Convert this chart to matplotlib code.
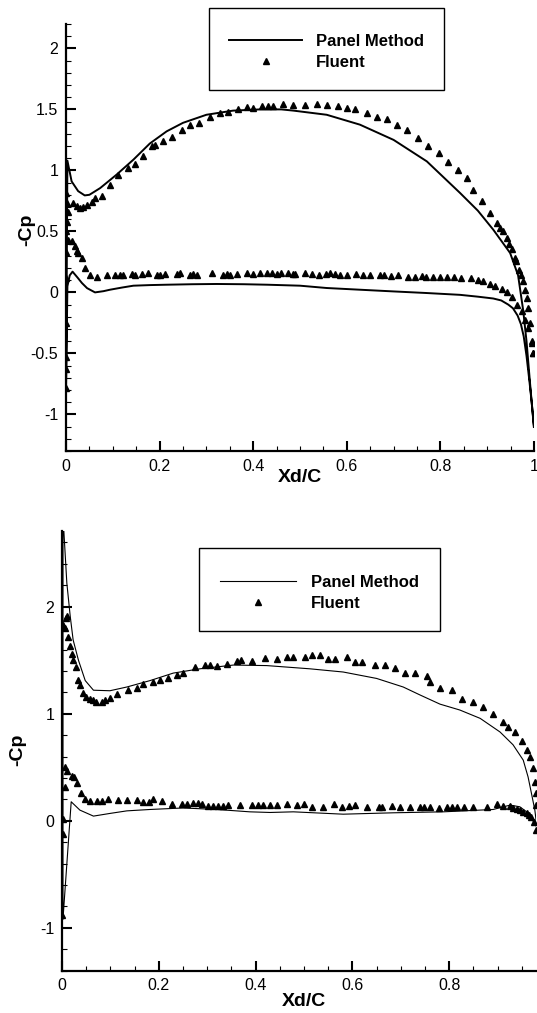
#!/usr/bin/env python3
"""
Pressure distribution: Panel Method vs Fluent (two cases)
"""
import numpy as np
import matplotlib
matplotlib.use('Agg')
import matplotlib.pyplot as plt
from matplotlib.ticker import MultipleLocator, FuncFormatter

plt.rcParams['font.family'] = ['Liberation Sans', 'DejaVu Sans']
plt.rcParams['axes.unicode_minus'] = False

# ---- case 1 (top) ----
pm1_up_x = [0.003, 0.012, 0.026, 0.04, 0.05, 0.073, 0.108, 0.144, 0.179, 0.215, 0.25,
            0.30, 0.357, 0.415, 0.46, 0.486, 0.557, 0.628, 0.70, 0.771, 0.842, 0.88,
            0.913, 0.949, 0.966, 0.977, 0.984, 0.991, 0.9996]
pm1_up_y = [1.08, 0.91, 0.83, 0.795, 0.80, 0.855, 0.965, 1.088, 1.22, 1.32, 1.39,
            1.456, 1.49, 1.50, 1.50, 1.49, 1.456, 1.375, 1.25, 1.074, 0.815, 0.67,
            0.514, 0.323, 0.14, -0.15, -0.4, -0.72, -1.1]
pm1_lo_x = [0.0, 0.003, 0.008, 0.014, 0.025, 0.034, 0.045, 0.062, 0.08, 0.094, 0.12,
            0.144, 0.18, 0.215, 0.27, 0.322, 0.38, 0.43, 0.5, 0.557, 0.628, 0.70,
            0.77, 0.842, 0.88, 0.913, 0.93, 0.945, 0.955, 0.965, 0.972, 0.978, 0.984,
            0.99, 0.995, 1.0]
pm1_lo_y = [-0.8, 0.05, 0.14, 0.17, 0.12, 0.077, 0.035, 0.0, 0.01, 0.022, 0.04,
            0.055, 0.06, 0.063, 0.067, 0.069, 0.067, 0.063, 0.055, 0.036, 0.022, 0.008,
            -0.005, -0.02, -0.035, -0.05, -0.066, -0.1, -0.13, -0.19, -0.26, -0.36, -0.52,
            -0.72, -0.9, -1.1]

fl1_up_x = [0.001, 0.003, 0.005, 0.003, 0.001, 0.016, 0.023, 0.03, 0.037, 0.044, 0.055,
            0.062, 0.076, 0.094, 0.112, 0.133, 0.147, 0.165, 0.183, 0.19, 0.208, 0.226,
            0.247, 0.265, 0.285, 0.308, 0.329, 0.347, 0.368, 0.386, 0.40, 0.418, 0.432,
            0.443, 0.464, 0.486, 0.511, 0.536, 0.557, 0.582, 0.60, 0.618, 0.643, 0.664,
            0.685, 0.707, 0.728, 0.753, 0.774, 0.796, 0.817, 0.838, 0.856, 0.87, 0.888,
            0.906, 0.92, 0.928, 0.934, 0.942, 0.947, 0.954, 0.959, 0.962, 0.969, 0.973,
            0.977, 0.98, 0.984, 0.988, 0.991, 0.995, 0.998]
fl1_up_y = [0.815, 0.73, 0.66, 0.58, 0.50, 0.73, 0.705, 0.69, 0.70, 0.72, 0.74,
            0.77, 0.79, 0.88, 0.96, 1.02, 1.05, 1.115, 1.20, 1.21, 1.24, 1.27,
            1.33, 1.37, 1.39, 1.44, 1.47, 1.475, 1.50, 1.52, 1.51, 1.525, 1.53,
            1.53, 1.545, 1.536, 1.536, 1.545, 1.536, 1.525, 1.51, 1.50, 1.47, 1.44,
            1.42, 1.375, 1.33, 1.265, 1.20, 1.14, 1.07, 1.005, 0.94, 0.84, 0.746,
            0.65, 0.57, 0.53, 0.50, 0.446, 0.40, 0.355, 0.28, 0.26, 0.186, 0.146,
            0.09, 0.02, -0.046, -0.128, -0.25, -0.40, -0.50]
fl1_lo_x = [0.0, 0.0, 0.0, 0.0, 0.001, 0.001, 0.005, 0.012, 0.019, 0.023, 0.026, 0.034,
            0.04, 0.051, 0.066, 0.087, 0.105, 0.115, 0.122, 0.14, 0.147, 0.162, 0.176,
            0.194, 0.201, 0.212, 0.237, 0.244, 0.265, 0.272, 0.279, 0.311, 0.336, 0.343,
            0.35, 0.365, 0.386, 0.40, 0.415, 0.43, 0.44, 0.45, 0.46, 0.475, 0.485, 0.49,
            0.51, 0.525, 0.54, 0.555, 0.565, 0.575, 0.585, 0.60, 0.62, 0.635, 0.65,
            0.67, 0.68, 0.695, 0.71, 0.73, 0.745, 0.76, 0.77, 0.785, 0.80, 0.815, 0.83,
            0.845, 0.865, 0.88, 0.892, 0.905, 0.917, 0.931, 0.942, 0.952, 0.963, 0.974,
            0.981, 0.988, 0.995, 0.998]
fl1_lo_y = [-0.78, -0.63, -0.53, -0.25, 0.12, 0.33, 0.43, 0.42, 0.38, 0.34, 0.32, 0.28,
            0.20, 0.145, 0.13, 0.145, 0.145, 0.14, 0.145, 0.15, 0.145, 0.15, 0.155,
            0.14, 0.145, 0.15, 0.15, 0.155, 0.145, 0.15, 0.14, 0.155, 0.145, 0.15,
            0.14, 0.15, 0.155, 0.15, 0.155, 0.16, 0.155, 0.15, 0.155, 0.16, 0.15, 0.15,
            0.155, 0.15, 0.145, 0.15, 0.155, 0.15, 0.14, 0.145, 0.15, 0.14, 0.145,
            0.145, 0.14, 0.135, 0.14, 0.13, 0.13, 0.135, 0.13, 0.13, 0.125, 0.13, 0.125,
            0.12, 0.115, 0.105, 0.09, 0.07, 0.05, 0.025, 0.0, -0.04, -0.1, -0.155,
            -0.224, -0.29, -0.415, -0.50]

# ---- case 2 (bottom) ----
pm2_up_x = [0.002, 0.01, 0.017, 0.023, 0.034, 0.048, 0.065, 0.099, 0.134, 0.182, 0.23,
            0.285, 0.354, 0.423, 0.512, 0.581, 0.65, 0.705, 0.74, 0.781, 0.822, 0.864,
            0.905, 0.932, 0.953, 0.963, 0.97, 0.977, 0.981]
pm2_up_y = [2.85, 2.22, 1.91, 1.69, 1.50, 1.31, 1.22, 1.215, 1.25, 1.31, 1.38,
            1.42, 1.455, 1.45, 1.42, 1.39, 1.33, 1.25, 1.175, 1.09, 1.035, 0.957,
            0.83, 0.71, 0.567, 0.41, 0.256, 0.1, -0.05]
pm2_lo_x = [0.002, 0.019, 0.037, 0.065, 0.099, 0.134, 0.182, 0.25, 0.32, 0.388, 0.43,
            0.478, 0.581, 0.685, 0.788, 0.891, 0.926, 0.946, 0.96, 0.97, 0.981]
pm2_lo_y = [-0.92, 0.178, 0.10, 0.044, 0.069, 0.093, 0.106, 0.12, 0.106, 0.084, 0.078,
            0.084, 0.062, 0.075, 0.084, 0.106, 0.147, 0.131, 0.084, 0.022, -0.06]

fl2_up_x = [0.003, 0.006, 0.008, 0.01, 0.013, 0.017, 0.02, 0.023, 0.028, 0.034, 0.037,
            0.044, 0.049, 0.058, 0.065, 0.071, 0.082, 0.088, 0.099, 0.113, 0.137, 0.154,
            0.168, 0.189, 0.202, 0.22, 0.237, 0.25, 0.275, 0.295, 0.306, 0.32, 0.34,
            0.361, 0.37, 0.392, 0.419, 0.444, 0.464, 0.478, 0.502, 0.516, 0.533, 0.55,
            0.564, 0.588, 0.605, 0.62, 0.647, 0.667, 0.688, 0.709, 0.729, 0.754, 0.76,
            0.781, 0.805, 0.826, 0.85, 0.87, 0.891, 0.912, 0.922, 0.936, 0.95, 0.96,
            0.966, 0.974, 0.978, 0.979, 0.98]
fl2_up_y = [1.83, 1.80, 1.89, 1.91, 1.72, 1.63, 1.56, 1.50, 1.44, 1.32, 1.27,
            1.19, 1.16, 1.14, 1.13, 1.11, 1.11, 1.13, 1.15, 1.18, 1.22, 1.24,
            1.28, 1.30, 1.32, 1.33, 1.36, 1.38, 1.44, 1.455, 1.455, 1.45, 1.465,
            1.49, 1.50, 1.49, 1.52, 1.515, 1.53, 1.53, 1.53, 1.545, 1.545, 1.51,
            1.51, 1.53, 1.48, 1.48, 1.455, 1.455, 1.43, 1.38, 1.38, 1.35, 1.30,
            1.24, 1.22, 1.14, 1.11, 1.065, 1.00, 0.925, 0.88, 0.83, 0.75, 0.66,
            0.60, 0.49, 0.36, 0.26, 0.15]
fl2_lo_x = [0.001, 0.002, 0.002, 0.006, 0.006, 0.01, 0.02, 0.025, 0.032, 0.04, 0.048,
            0.058, 0.072, 0.082, 0.096, 0.116, 0.134, 0.154, 0.168, 0.179, 0.189, 0.206,
            0.227, 0.248, 0.258, 0.271, 0.282, 0.289, 0.302, 0.313, 0.323, 0.333, 0.344,
            0.368, 0.392, 0.406, 0.416, 0.43, 0.444, 0.464, 0.485, 0.499, 0.516, 0.54,
            0.561, 0.578, 0.592, 0.606, 0.63, 0.654, 0.661, 0.681, 0.698, 0.719, 0.74,
            0.747, 0.761, 0.778, 0.795, 0.805, 0.816, 0.83, 0.85, 0.878, 0.898, 0.912,
            0.925, 0.932, 0.94, 0.946, 0.953, 0.96, 0.965, 0.97, 0.975, 0.979]
fl2_lo_y = [-0.88, -0.12, 0.02, 0.32, 0.505, 0.47, 0.42, 0.41, 0.355, 0.256, 0.20,
            0.187, 0.187, 0.187, 0.203, 0.196, 0.19, 0.19, 0.18, 0.18, 0.20, 0.187,
            0.16, 0.16, 0.16, 0.17, 0.17, 0.16, 0.14, 0.14, 0.14, 0.14, 0.145,
            0.147, 0.147, 0.147, 0.147, 0.147, 0.147, 0.153, 0.147, 0.153, 0.125, 0.131,
            0.153, 0.131, 0.136, 0.147, 0.131, 0.125, 0.125, 0.142, 0.131, 0.131, 0.131,
            0.131, 0.125, 0.122, 0.125, 0.125, 0.125, 0.125, 0.131, 0.131, 0.153, 0.136,
            0.135, 0.12, 0.11, 0.10, 0.085, 0.069, 0.05, 0.037, -0.01, -0.09]


def fmt(v, pos):
    return '%g' % (round(v, 6) + 0.0)


def style_axes(ax, xmaj, xmin, ymaj, ymin):
    for s in ('top', 'right'):
        ax.spines[s].set_visible(False)
    for s in ('left', 'bottom'):
        ax.spines[s].set_linewidth(1.6)
    ax.xaxis.set_major_locator(MultipleLocator(xmaj))
    ax.xaxis.set_minor_locator(MultipleLocator(xmin))
    ax.yaxis.set_major_locator(MultipleLocator(ymaj))
    ax.yaxis.set_minor_locator(MultipleLocator(ymin))
    ax.xaxis.set_major_formatter(FuncFormatter(fmt))
    ax.yaxis.set_major_formatter(FuncFormatter(fmt))
    ax.tick_params(which='both', direction='in', top=False, right=False,
                   labelsize=11.5, pad=5.5)
    ax.tick_params(which='major', length=7, width=1.5)
    ax.tick_params(which='minor', length=3.8, width=0.8)


fig = plt.figure(figsize=(5.37, 10.13), dpi=100)
W, H = 537.0, 1013.0

ax1 = fig.add_axes([66 / W, 1 - 451 / H, 468 / W, 427 / H])
ax2 = fig.add_axes([62 / W, 1 - 970.7 / H, 474.3 / W, 440 / H])

cases = [
    (ax1, pm1_up_x, pm1_up_y, pm1_lo_x, pm1_lo_y, fl1_up_x, fl1_up_y, fl1_lo_x, fl1_lo_y, 1.4),
    (ax2, pm2_up_x, pm2_up_y, pm2_lo_x, pm2_lo_y, fl2_up_x, fl2_up_y, fl2_lo_x, fl2_lo_y, 0.8),
]
for ax, pux, puy, plx, ply, fux, fuy, flx, fly, lw in cases:
    px = np.concatenate([plx[::-1], pux])
    py = np.concatenate([ply[::-1], puy])
    ax.plot(px, py, color='black', lw=lw, label='Panel Method', zorder=2)
    fx = np.concatenate([fux, flx])
    fy = np.concatenate([fuy, fly])
    ax.plot(fx, fy, ls='none', marker='^', ms=4, color='black', mec='black',
            label='Fluent', zorder=3, clip_on=True)

ax1.set_xlim(0, 1)
ax1.set_ylim(-1.3, 2.2)
style_axes(ax1, 0.2, 0.05, 0.5, 0.1)

ax2.set_xlim(0, 0.98)
ax2.set_ylim(-1.4, 2.71)
style_axes(ax2, 0.2, 0.05, 1.0, 0.2)

# (axes, left px, top px, handlelength, handletextpad, borderpad)
legend_pos = [(ax1, 209, 8, 4.4, 0.8, 1.2), (ax2, 199, 548, 4.55, 0.9, 1.25)]
for ax, lx, ly, hl, htp, bp in legend_pos:
    leg = ax.legend(loc='upper left', bbox_to_anchor=(lx / W, 1 - ly / H),
                    bbox_transform=fig.transFigure, frameon=True, fancybox=False,
                    edgecolor='black', framealpha=1, numpoints=1,
                    prop=dict(weight='bold', size=12), handlelength=hl,
                    handletextpad=htp, borderpad=bp, labelspacing=0.32,
                    borderaxespad=0, title=' ', title_fontsize=1)
    leg.get_frame().set_linewidth(1.0)

lab = dict(fontsize=14, fontweight='bold', ha='center', va='center')
fig.text(27 / W, 1 - 230 / H, '-Cp', rotation=90, **lab)
fig.text(300 / W, 1 - 477 / H, 'Xd/C', **lab)
fig.text(18 / W, 1 - 750 / H, '-Cp', rotation=90, **lab)
fig.text(304 / W, 1 - 1001 / H, 'Xd/C', **lab)

fig.savefig('out.png', dpi=100)
